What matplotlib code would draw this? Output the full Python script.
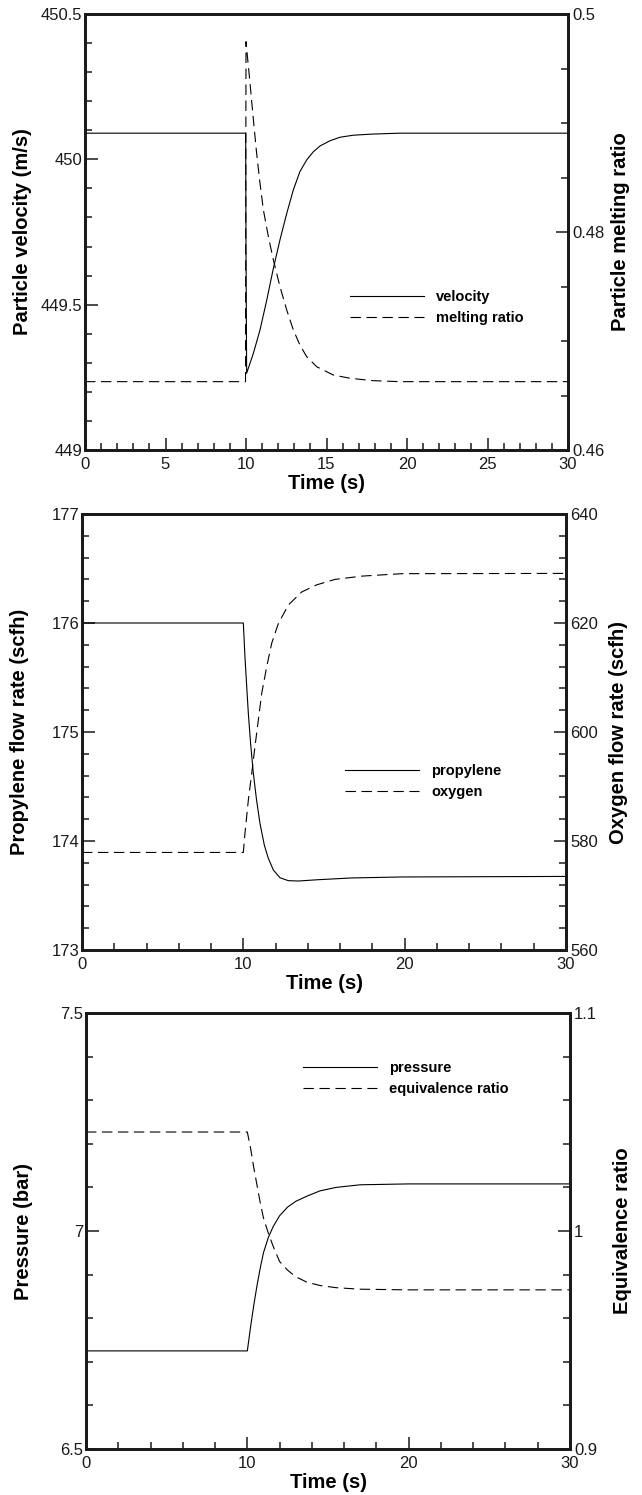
import matplotlib
matplotlib.use("Agg")
import matplotlib.pyplot as plt
from matplotlib.ticker import MultipleLocator, FuncFormatter
from matplotlib.lines import Line2D

plt.rcParams['font.family'] = ['Liberation Sans', 'DejaVu Sans']
plt.rcParams['lines.scale_dashes'] = False

# ---- Panel 1: particle velocity and melting ratio ----
t_velocity = [0, 9.98, 10.0, 10.04, 10.46, 10.87, 11.29, 11.70, 12.11, 12.53, 12.94,
              13.35, 13.77, 14.18, 14.60, 15.22, 15.84, 16.66, 17.90, 19.57, 30]
velocity = [450.09, 450.09, 449.70, 449.264, 449.333, 449.413, 449.516, 449.625, 449.723,
            449.814, 449.895, 449.958, 449.998, 450.026, 450.046, 450.064, 450.076,
            450.083, 450.087, 450.090, 450.090]

t_melting = [0, 9.97, 10.0, 10.25, 10.46, 10.66, 10.87, 11.08, 11.39, 11.70, 12.11, 12.53,
             12.94, 13.35, 13.77, 14.39, 15.42, 16.46, 17.90, 19.57, 30]
melting_ratio = [0.46627, 0.46627, 0.49746, 0.49364, 0.49028, 0.48722, 0.48447, 0.48202,
                 0.47957, 0.47743, 0.47498, 0.47284, 0.47101, 0.46963, 0.46856, 0.46764,
                 0.46688, 0.46658, 0.46636, 0.46627, 0.46627]

# ---- Panel 2: propylene and oxygen flow rates ----
t_propylene = [0, 10.0, 10.10, 10.21, 10.31, 10.45, 10.62, 10.82, 11.03, 11.30, 11.55,
               11.86, 12.27, 12.79, 13.41, 14.65, 16.72, 19.81, 30]
propylene = [176.0, 176.0, 175.691, 175.416, 175.171, 174.896, 174.621, 174.376, 174.162,
             173.963, 173.841, 173.734, 173.663, 173.636, 173.633, 173.645, 173.661,
             173.670, 173.675]

t_oxygen = [0, 10.0, 10.10, 10.31, 10.52, 10.72, 10.93, 11.14, 11.45, 11.76, 12.17, 12.79,
            13.62, 14.55, 15.68, 17.34, 19.81, 30]
oxygen = [577.9, 577.9, 581.4, 587.5, 592.4, 597.3, 602.2, 607.1, 612.0, 616.3, 619.9,
          623.3, 625.7, 627.0, 628.0, 628.6, 629.05, 629.1]

# ---- Panel 3: pressure and equivalence ratio ----
t_pressure = [0, 10.0, 10.2, 10.4, 10.6, 10.8, 11.0, 11.3, 11.6, 12.0, 12.5, 13.0, 13.7,
              14.5, 15.5, 17.0, 20.0, 30]
pressure = [6.725, 6.725, 6.78, 6.83, 6.875, 6.915, 6.95, 6.985, 7.01, 7.035, 7.055, 7.068,
            7.08, 7.092, 7.10, 7.106, 7.108, 7.108]

t_equivalence = [0, 10.0, 10.2, 10.4, 10.6, 10.8, 11.0, 11.3, 11.6, 12.0, 12.5, 13.0, 13.7,
                 14.5, 15.5, 17.0, 20.0, 30]
equivalence = [1.0454, 1.0454, 1.038, 1.029, 1.021, 1.013, 1.006, 0.999, 0.993, 0.986,
               0.982, 0.979, 0.9765, 0.975, 0.974, 0.9733, 0.973, 0.973]

W, H = 642, 1495
fig = plt.figure(figsize=(W / 100, H / 100), dpi=100)

DASH = (0, (7.5, 4.0))
LW = 0.8
TICK_FS = 12
LABEL_FS = 14.5
LEG_FS = 10.5


def fmt(v, _):
    return f"{v:g}"


def make_panel(px_left, px_right, px_top, px_bottom):
    ax = fig.add_axes([px_left / W, 1 - px_bottom / H,
                       (px_right - px_left) / W, (px_bottom - px_top) / H])
    ax2 = ax.twinx()
    for a in (ax, ax2):
        for s in a.spines.values():
            s.set_linewidth(2.0)
            s.set_color('#1a1a1a')
    ax.tick_params(axis='both', which='both', direction='in', colors='#1a1a1a',
                   labelsize=TICK_FS, width=1.1)
    ax.tick_params(which='major', length=9)
    ax.tick_params(which='minor', length=5)
    ax.tick_params(axis='x', pad=5)
    ax.tick_params(axis='y', pad=2)
    ax2.tick_params(axis='y', which='both', direction='in', colors='#1a1a1a',
                    labelsize=TICK_FS, width=1.1, pad=3)
    ax2.tick_params(which='major', length=9)
    ax2.tick_params(which='minor', length=5)
    ax.yaxis.set_major_formatter(FuncFormatter(fmt))
    ax2.yaxis.set_major_formatter(FuncFormatter(fmt))
    ax.set_xlim(0, 30)
    return ax, ax2


def labels(ax, ax2, left, right):
    ax.set_xlabel('Time (s)', fontsize=LABEL_FS, fontweight='bold')
    ax.set_ylabel(left, fontsize=LABEL_FS, fontweight='bold')
    ax2.set_ylabel(right, fontsize=LABEL_FS, fontweight='bold', rotation=90)
    ax.yaxis.set_label_coords(-0.11, 0.5)
    ax2.yaxis.set_label_coords(1.089, 0.5)
    ax.xaxis.set_label_coords(0.5, -0.055)


def legend(ax, names, x_px, y_px):
    handles = [Line2D([], [], color='black', lw=LW),
               Line2D([], [], color='black', lw=LW, linestyle=DASH)]
    ax.legend(handles, names, loc='upper left', frameon=False,
              bbox_to_anchor=(x_px / W, 1 - y_px / H), bbox_transform=fig.transFigure,
              prop={'weight': 'bold', 'size': LEG_FS}, borderpad=0, borderaxespad=0,
              handlelength=5.1, handletextpad=0.8, labelspacing=0.5)


# Panel 1
ax, ax2 = make_panel(85, 568, 14, 450)
ax.plot(t_velocity, velocity, color='black', lw=LW)
ax2.plot(t_melting, melting_ratio, color='black', lw=LW, linestyle=DASH)
ax.set_ylim(449, 450.5)
ax2.set_ylim(0.46, 0.5)
ax.xaxis.set_major_locator(MultipleLocator(5))
ax.xaxis.set_minor_locator(MultipleLocator(1))
ax.yaxis.set_major_locator(MultipleLocator(0.5))
ax.yaxis.set_minor_locator(MultipleLocator(0.1))
ax2.yaxis.set_major_locator(MultipleLocator(0.02))
ax2.yaxis.set_minor_locator(MultipleLocator(0.005))
labels(ax, ax2, 'Particle velocity (m/s)', 'Particle melting ratio')
legend(ax, ['velocity', 'melting ratio'], 350, 290)

# Panel 2
ax, ax2 = make_panel(82, 566, 514, 950)
ax.plot(t_propylene, propylene, color='black', lw=LW)
ax2.plot(t_oxygen, oxygen, color='black', lw=LW, linestyle=DASH)
ax.set_ylim(173, 177)
ax2.set_ylim(560, 640)
ax.xaxis.set_major_locator(MultipleLocator(10))
ax.xaxis.set_minor_locator(MultipleLocator(2))
ax.yaxis.set_major_locator(MultipleLocator(1))
ax.yaxis.set_minor_locator(MultipleLocator(0.2))
ax2.yaxis.set_major_locator(MultipleLocator(20))
ax2.yaxis.set_minor_locator(MultipleLocator(4))
labels(ax, ax2, 'Propylene flow rate (scfh)', 'Oxygen flow rate (scfh)')
legend(ax, ['propylene', 'oxygen'], 345, 764)

# Panel 3
ax, ax2 = make_panel(86, 570, 1013, 1449)
ax.plot(t_pressure, pressure, color='black', lw=LW)
ax2.plot(t_equivalence, equivalence, color='black', lw=LW, linestyle=DASH)
ax.set_ylim(6.5, 7.5)
ax2.set_ylim(0.9, 1.1)
ax.xaxis.set_major_locator(MultipleLocator(10))
ax.xaxis.set_minor_locator(MultipleLocator(2))
ax.yaxis.set_major_locator(MultipleLocator(0.5))
ax.yaxis.set_minor_locator(MultipleLocator(0.1))
ax2.yaxis.set_major_locator(MultipleLocator(0.1))
ax2.yaxis.set_minor_locator(MultipleLocator(0.02))
labels(ax, ax2, 'Pressure (bar)', 'Equivalence ratio')
legend(ax, ['pressure', 'equivalence ratio'], 303, 1061)

fig.savefig('out.png', dpi=100)
